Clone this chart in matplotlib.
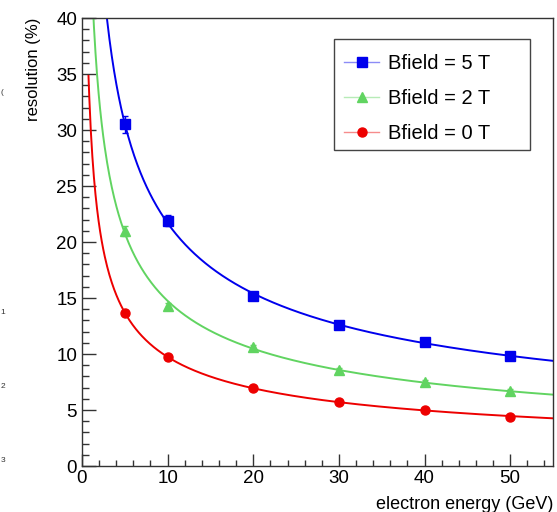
import numpy as np
import matplotlib.pyplot as plt
from matplotlib.lines import Line2D
from matplotlib.patches import Rectangle
from matplotlib.ticker import MultipleLocator

plt.rcParams['font.family'] = ['Liberation Sans', 'DejaVu Sans']

energy = np.array([5, 10, 20, 30, 40, 50])
res_5T = np.array([30.5, 21.9, 15.2, 12.6, 11.1, 9.8])
err_5T = np.array([0.75, 0.5, 0.3, 0.2, 0.2, 0.2])
res_2T = np.array([21.0, 14.3, 10.6, 8.6, 7.5, 6.7])
err_2T = np.array([0.45, 0.3, 0.2, 0.15, 0.15, 0.15])
res_0T = np.array([13.7, 9.7, 7.0, 5.7, 5.0, 4.4])
err_0T = np.array([0.25, 0.2, 0.15, 0.1, 0.1, 0.1])

series = [
    ('Bfield = 5 T', res_5T, err_5T, (0.0, 0.0, 0.93), 's'),
    ('Bfield = 2 T', res_2T, err_2T, (0.38, 0.83, 0.38), '^'),
    ('Bfield = 0 T', res_0T, err_0T, (0.93, 0.0, 0.0), 'o'),
]

fig = plt.figure(figsize=(5.57, 5.12), dpi=100)
ax = fig.add_axes([0.1472, 0.0898, 0.8456, 0.875])

Efit = np.linspace(0.76, 55, 600)
handles = []
for label, y, e, c, m in series:
    # fit resolution = a/sqrt(E) + b
    A = np.vstack([1/np.sqrt(energy), np.ones(len(energy))]).T
    coef, *_ = np.linalg.lstsq(A, y, rcond=None)
    ax.plot(Efit, coef[0]/np.sqrt(Efit) + coef[1], color=c, lw=1.4, zorder=2)
    ax.errorbar(energy, y, yerr=e, fmt='none', ecolor=c, elinewidth=1,
                capsize=2.5, zorder=3)
    ax.plot(energy, y, ls='none', marker=m, color=c, ms=6.5, zorder=4)
    handles.append(Line2D([], [], color=c + (0.45,), lw=1, marker=m, ms=6.5,
                          markerfacecolor=c, markeredgecolor=c, label=label))

ax.set_xlim(0, 55)
ax.set_ylim(0, 40)
ax.xaxis.set_major_locator(MultipleLocator(10))
ax.xaxis.set_minor_locator(MultipleLocator(2))
ax.yaxis.set_major_locator(MultipleLocator(5))
ax.yaxis.set_minor_locator(MultipleLocator(1))
ax.tick_params(which='both', direction='in', top=False, right=False,
               labelsize=13.5, colors='#333333', labelcolor='black')
ax.tick_params(axis='y', which='major', length=10, width=1)
ax.tick_params(axis='y', which='minor', length=5, width=1)
ax.tick_params(axis='x', which='major', length=9, width=1, pad=3)
ax.tick_params(axis='x', which='minor', length=4.5, width=1)
for s in ax.spines.values():
    s.set_linewidth(1)
    s.set_color('#333333')

ax.set_xlabel('electron energy (GeV)', fontsize=13)
ax.xaxis.set_label_coords(1.0, -0.068)
ax.xaxis.label.set_ha('right')
ax.set_ylabel('resolution (%)', fontsize=12)
ax.yaxis.set_label_coords(-0.087, 1.0)
ax.yaxis.label.set_ha('right')

# ROOT-style fixed legend box
ax.add_patch(Rectangle((0.535, 0.705), 0.416, 0.248, transform=ax.transAxes,
                       fill=True, facecolor='white', edgecolor='#444444',
                       lw=1, zorder=5))
leg = ax.legend(handles=handles, loc='upper left',
                bbox_to_anchor=(0.535, 0.943), borderaxespad=0,
                fontsize=14.5, frameon=False, handlelength=1.7,
                labelspacing=0.8, borderpad=0.52, handletextpad=0.45)
leg.set_zorder(6)

for yy, t in [(0.82, '('), (0.39, '1'), (0.245, '2'), (0.10, '3')]:
    fig.text(0.001, yy, t, fontsize=6, color='#333333', ha='left', va='center')

fig.savefig('out.png', dpi=100)
